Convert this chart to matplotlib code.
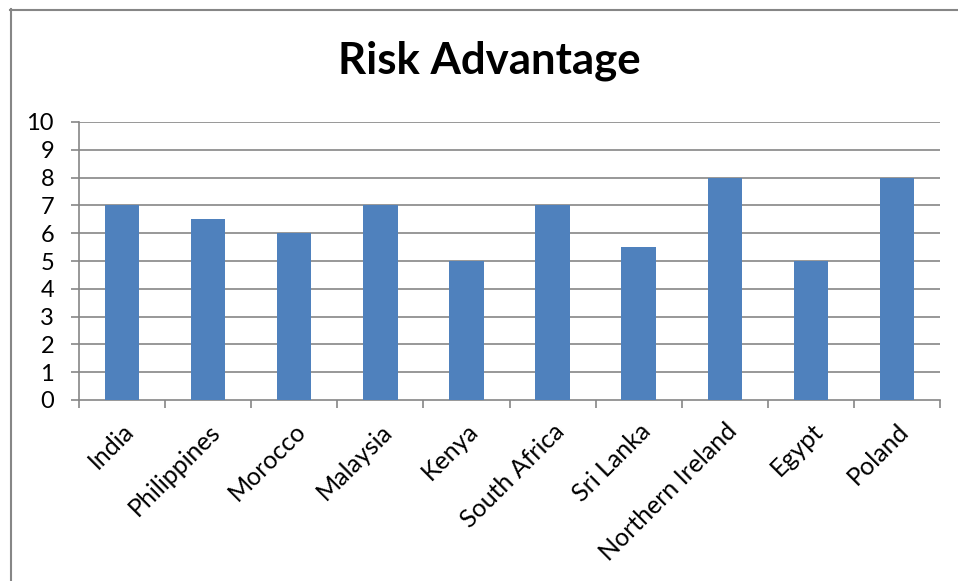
import matplotlib.pyplot as plt
import numpy as np
from matplotlib.lines import Line2D

countries = ['India', 'Philippines', 'Morocco', 'Malaysia', 'Kenya',
             'South Africa', 'Sri Lanka', 'Northern Ireland', 'Egypt', 'Poland']
scores = [7, 6.5, 6, 7, 5, 7, 5.5, 8, 5, 8]
yticks = list(range(0, 11))

plt.rcParams['font.family'] = ['Lato', 'DejaVu Sans']

W, H = 958, 581
fig = plt.figure(figsize=(W / 100, H / 100), dpi=100)
ax = fig.add_axes([79 / W, 1 - 400 / H, (940 - 79) / W, (400 - 122) / H])

grey = '#868686'
x = np.arange(len(countries))
ax.bar(x, scores, width=0.4, color='#4F81BD', zorder=3)

ax.set_xlim(-0.5, len(countries) - 0.5)
ax.set_ylim(0, 10)
ax.set_yticks(yticks)
ax.set_yticklabels([str(t) for t in yticks], fontsize=17)
for t in yticks[1:]:
    ax.axhline(t, color=grey, lw=1.2, zorder=1)

ax.set_xticks(np.arange(len(countries) + 1) - 0.5)
ax.set_xticklabels([])
ax.set_xticks(x, minor=True)
ax.set_xticklabels(countries, minor=True, rotation=45, ha='right', va='top',
                   rotation_mode='anchor', fontsize=18)
ax.tick_params(axis='x', which='minor', length=0, pad=14)
ax.tick_params(axis='x', which='major', length=6, width=1.2, color=grey)
ax.tick_params(axis='y', length=6, width=1.2, color=grey, pad=12)

for s in ['top', 'right']:
    ax.spines[s].set_visible(False)
for s in ['left', 'bottom']:
    ax.spines[s].set_color(grey)
    ax.spines[s].set_linewidth(1.2)

fig.text(489 / W, 1 - 61 / H, 'Risk Advantage', ha='center', va='center',
         fontsize=31.5, fontweight='bold')

# chart border (left and top edges visible)
fig.add_artist(Line2D([10.5 / W, 10.5 / W], [0, 1 - 9 / H], transform=fig.transFigure,
                      color=grey, lw=1.5))
fig.add_artist(Line2D([10 / W, 1], [1 - 9.5 / H, 1 - 9.5 / H], transform=fig.transFigure,
                      color=grey, lw=1.5))

fig.savefig('out.png', dpi=100)
